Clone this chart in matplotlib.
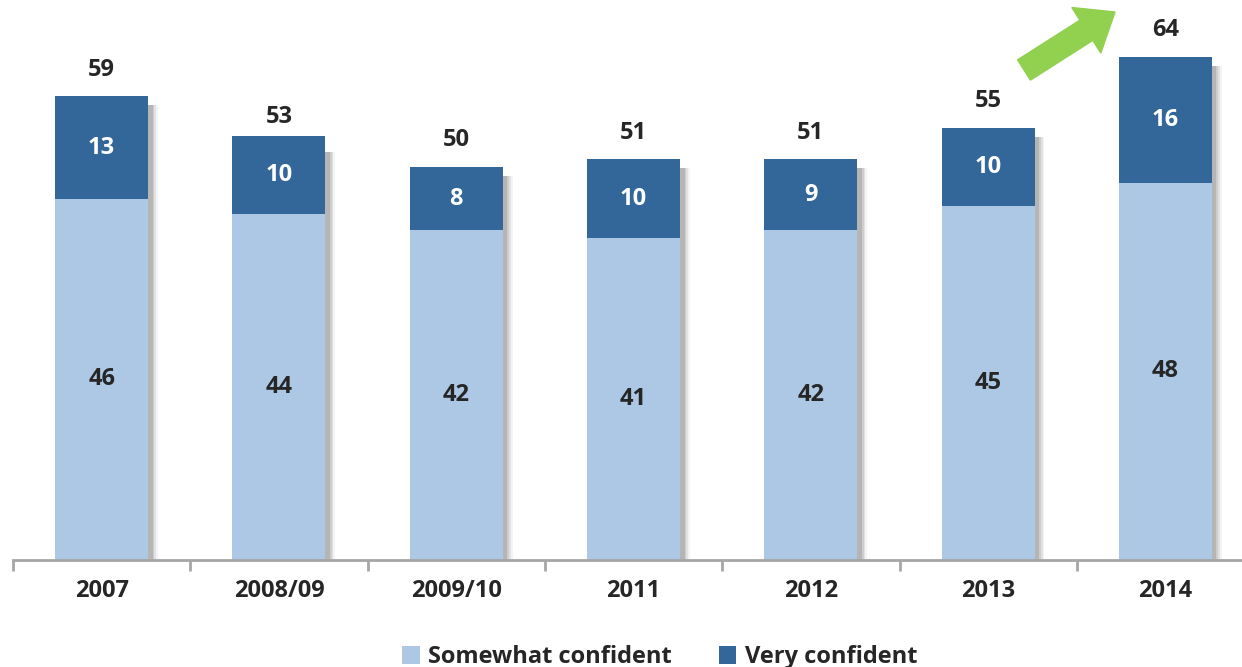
import matplotlib

matplotlib.use("Agg")
import matplotlib.pyplot as plt
import numpy as np
from matplotlib.patches import FancyArrow

categories = ["2007", "2008/09", "2009/10", "2011", "2012", "2013", "2014"]
somewhat = [46, 44, 42, 41, 42, 45, 48]
very = [13, 10, 8, 10, 9, 10, 16]
totals = [59, 53, 50, 51, 51, 55, 64]

light = "#ADC8E4"
dark = "#336699"
txt = "#262626"

plt.rcParams["font.family"] = ["Open Sans", "DejaVu Sans"]

fig = plt.figure(figsize=(12.42, 6.67), dpi=100)
ax = fig.add_axes([13 / 1242, 107 / 667, 1 - 13 / 1242, 550 / 667])

x = np.arange(len(categories))
w = 0.525
bot = np.array(somewhat)

# soft shadow behind bars
for dx, a in [(0.055, 0.08), (0.045, 0.12), (0.035, 0.18), (0.025, 0.25)]:
    ax.bar(x + dx, np.array(totals) - 0.5, w, bottom=-0.6, color="#6f6f6f",
           alpha=a, edgecolor="none", zorder=1)

ax.bar(x, somewhat, w, color=light, edgecolor="none", zorder=2,
       label="Somewhat confident")
ax.bar(x, very, w, bottom=bot, color=dark, edgecolor="none", zorder=2,
       label="Very confident")

for i in range(len(x)):
    ax.text(x[i], somewhat[i] / 2, str(somewhat[i]), ha="center", va="center",
            fontsize=17, fontweight="bold", color=txt, zorder=3)
    ax.text(x[i], somewhat[i] + very[i] / 2, str(very[i]), ha="center",
            va="center", fontsize=17, fontweight="bold", color="white", zorder=3)
    ax.text(x[i], totals[i] + 3.4, str(totals[i]), ha="center", va="center",
            fontsize=17, fontweight="bold", color=txt, zorder=3)

for s in ["top", "right", "left"]:
    ax.spines[s].set_visible(False)
ax.spines["bottom"].set_color("#A6A6A6")
ax.spines["bottom"].set_linewidth(2)
ax.set_yticks([])
ax.set_xticks(x)
ax.set_xticklabels(categories, fontsize=17, fontweight="bold", color=txt)
ax.tick_params(axis="x", which="major", length=0, pad=14)
ax.set_xticks(np.arange(-0.5, len(x) + 0.5, 1), minor=True)
ax.tick_params(axis="x", which="minor", length=8, width=2, color="#A6A6A6")
# limits last, so the tick setting does not widen them
ax.set_xlim(-0.5, -0.5 + 1229 / 177.3)
ax.set_ylim(0, 70)

# green trend arrow (inches)
x0, y0 = 10.24, (667 - 70) / 100
x1, y1 = 11.15, (667 - 12) / 100
arrow = FancyArrow(x0, y0, x1 - x0, y1 - y0, width=0.24, head_width=0.54,
                   head_length=0.34, length_includes_head=True,
                   color="#92D050", transform=fig.dpi_scale_trans, zorder=5)
fig.patches.append(arrow)

fig.legend(loc="lower center", bbox_to_anchor=(0.531, -0.035), ncol=2,
           frameon=False, handlelength=0.75, handleheight=0.75,
           handletextpad=0.35, columnspacing=2.0,
           prop={"weight": "bold", "size": 17})
for t in fig.legends[0].get_texts():
    t.set_color(txt)

fig.savefig("out.png", dpi=100, facecolor="white")
